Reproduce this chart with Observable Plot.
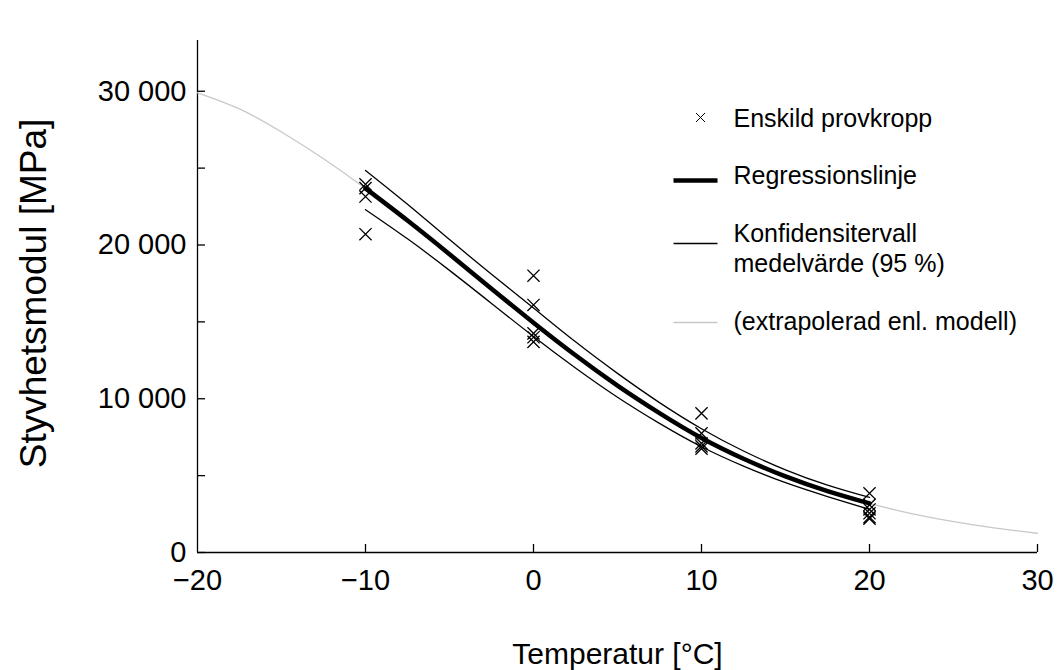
<!DOCTYPE html>
<html>
<head>
<meta charset="utf-8">
<script src="https://cdn.jsdelivr.net/npm/d3@7"></script>
<script src="https://cdn.jsdelivr.net/npm/@observablehq/plot@0.6"></script>
<style>
  html, body { margin: 0; padding: 0; background: #fff; }
</style>
</head>
<body>
<div id="chart"></div>
<script>
// Model curve (extrapolated over the full temperature range)
const modelTemps = [-20, -17.5, -15, -12.5, -10, -7.5, -5, -2.5, 0, 2.5, 5, 7.5, 10, 12.5, 15, 17.5, 20, 22.5, 25, 27.5, 30];
const modelValues = [29900, 28850, 27350, 25610, 23680, 21590, 19400, 17160, 14950, 12830, 10860, 9070, 7450, 6100, 4950, 3990, 3190, 2530, 2010, 1590, 1250];

// Regression line and 95 % confidence interval of the mean, within the tested range
const fitTemps = [-10, -7.5, -5, -2.5, 0, 2.5, 5, 7.5, 10, 12.5, 15, 17.5, 20];
const regValues = [23680, 21590, 19400, 17160, 14950, 12830, 10860, 9070, 7450, 6100, 4950, 3990, 3190];
const upperValues = [24850, 22650, 20350, 18100, 15900, 13700, 11650, 9750, 8050, 6600, 5380, 4380, 3580];
const lowerValues = [22300, 20400, 18350, 16200, 14050, 12000, 10100, 8400, 6880, 5620, 4540, 3640, 2800];

// Individual specimens
const specimenTemps = [-10, -10, -10, -10, 0, 0, 0, 0, 0, 10, 10, 10, 10, 10, 20, 20, 20, 20, 20, 20];
const specimenValues = [23950, 23700, 23150, 20700, 18000, 16100, 14250, 14000, 13700, 9050, 7750, 7100, 6900, 6750, 3850, 3100, 2800, 2550, 2300, 2200];

// Axis ticks
const xTicks = [-20, -10, 0, 10, 20, 30];
const yLabelTicks = [0, 10000, 20000, 30000];
const yAllTicks = [0, 5000, 10000, 15000, 20000, 25000, 30000];

const modelData = modelTemps.map((t, i) => ({t, v: modelValues[i]}));
const regData = fitTemps.map((t, i) => ({t, v: regValues[i]}));
const upperData = fitTemps.map((t, i) => ({t, v: upperValues[i]}));
const lowerData = fitTemps.map((t, i) => ({t, v: lowerValues[i]}));
const specimens = specimenTemps.map((t, i) => ({t, v: specimenValues[i]}));

const fmtX = d3.format("d");
const fmtY = d => d3.format(",")(d).replace(/,/g, " ");

// short horizontal stroke used as a legend key
const hLine = len => ({draw(ctx) { ctx.moveTo(-len / 2, 0); ctx.lineTo(len / 2, 0); }});

const legendFont = 25;
const legendText = (label, dy) => Plot.text([label], {
  text: d => d, frameAnchor: "top-left", dx: 536, dy,
  textAnchor: "start", lineAnchor: "middle", lineHeight: 1.2, fontSize: legendFont
});

const chart = Plot.plot({
  width: 1059,
  height: 670,
  marginLeft: 197,
  marginRight: 22,
  marginTop: 40,
  marginBottom: 118,
  x: {domain: [-20, 30], label: null},
  y: {domain: [0, 33300], label: null},
  style: {fontFamily: "'Liberation Sans', Arial, sans-serif", color: "black", background: "white"},
  marks: [
    // axis lines
    Plot.ruleY([0], {stroke: "black", strokeWidth: 1.3}),
    Plot.ruleX([-20], {stroke: "black", strokeWidth: 1.3}),
    // tick labels
    Plot.axisX({ticks: xTicks, tickSize: 0, tickPadding: 17, tickFormat: fmtX, fontSize: 29, label: null}),
    Plot.axisY({ticks: yLabelTicks, tickSize: 0, tickPadding: 11, tickFormat: fmtY, fontSize: 29, label: null}),
    // inward tick marks
    Plot.axisX({ticks: xTicks.slice(1), tickSize: 8, dy: -8, tickFormat: () => "", label: null, strokeWidth: 1.3}),
    Plot.axisY({ticks: yAllTicks, tickSize: 8, dx: 8, tickFormat: () => "", label: null, strokeWidth: 1.3}),
    // axis titles
    Plot.text(["Styvhetsmodul [MPa]"], {text: d => d, frameAnchor: "left", dx: -163, dy: -3, rotate: -90, textAnchor: "middle", lineAnchor: "middle", fontSize: 37}),
    Plot.text(["Temperatur [°C]"], {text: d => d, frameAnchor: "bottom", dy: 102, lineAnchor: "middle", fontSize: 30}),
    // data
    Plot.line(modelData, {x: "t", y: "v", stroke: "#c8c8c8", strokeWidth: 1.3, curve: "natural"}),
    Plot.line(upperData, {x: "t", y: "v", stroke: "black", strokeWidth: 1.3, curve: "natural"}),
    Plot.line(lowerData, {x: "t", y: "v", stroke: "black", strokeWidth: 1.3, curve: "natural"}),
    Plot.line(regData, {x: "t", y: "v", stroke: "black", strokeWidth: 4.5, curve: "natural"}),
    Plot.dot(specimens, {x: "t", y: "v", symbol: "times", r: 5.6, stroke: "black", strokeWidth: 1.3}),
    // legend
    Plot.dot([0], {frameAnchor: "top-left", dx: 503, dy: 77, symbol: "times", r: 4.2, stroke: "black", strokeWidth: 1}),
    legendText("Enskild provkropp", 77),
    Plot.dot([0], {frameAnchor: "top-left", dx: 498, dy: 140, symbol: hLine(44), fill: "none", stroke: "black", strokeWidth: 4.5}),
    legendText("Regressionslinje", 134),
    Plot.dot([0], {frameAnchor: "top-left", dx: 498, dy: 203, symbol: hLine(44), fill: "none", stroke: "black", strokeWidth: 1.3}),
    legendText("Konfidensitervall\nmedelvärde (95 %)", 207),
    Plot.dot([0], {frameAnchor: "top-left", dx: 498, dy: 282, symbol: hLine(44), fill: "none", stroke: "#c8c8c8", strokeWidth: 1.3}),
    legendText("(extrapolerad enl. modell)", 280)
  ]
});

document.getElementById("chart").appendChild(chart);
</script>
</body>
</html>
